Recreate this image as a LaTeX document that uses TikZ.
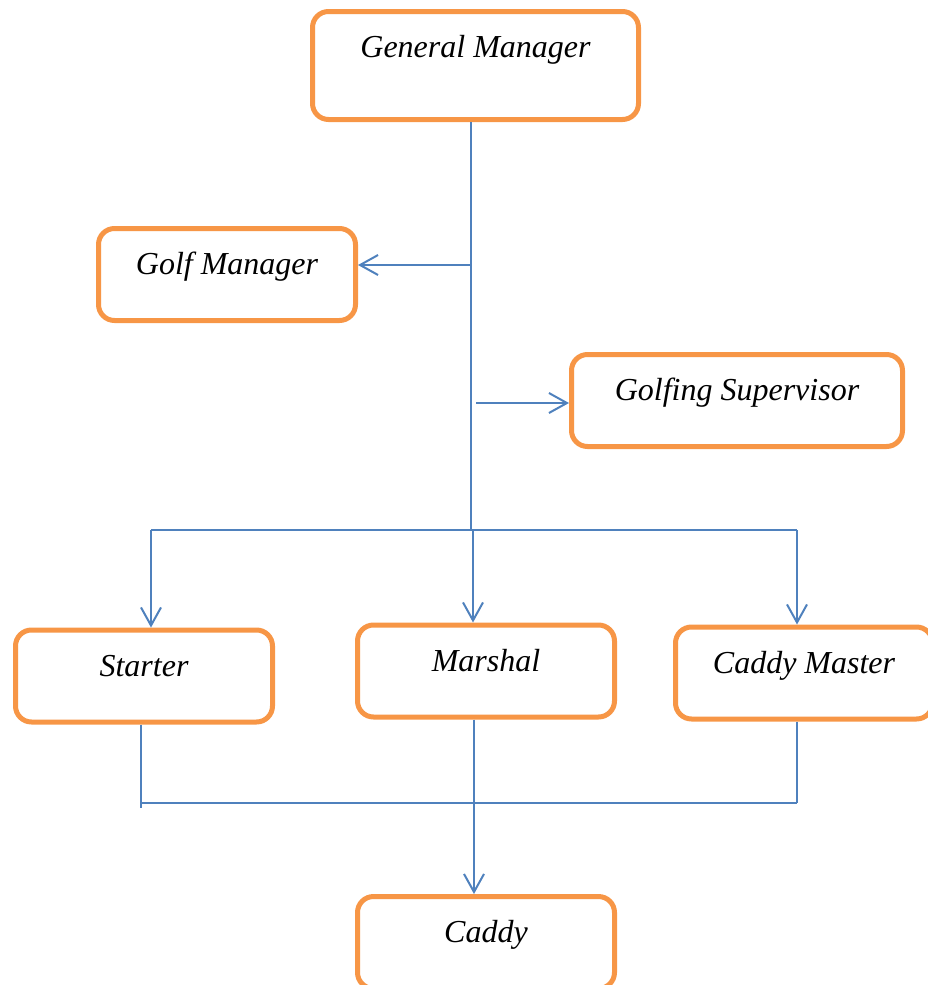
\documentclass[tikz,border=0pt]{standalone}
\usepackage{fontspec}
\setmainfont{Liberation Serif}
\usetikzlibrary{arrows.meta}
\definecolor{boxorange}{RGB}{247,150,70}
\definecolor{lineblue}{RGB}{79,129,189}

\begin{document}
\begin{tikzpicture}[
    x=0.5pt, y=-0.5pt,
    role/.style={rectangle, draw=boxorange, line width=2.5pt, fill=white, rounded corners=8pt, inner sep=0pt, minimum width=128.5pt, text height=23pt, text depth=23pt, align=center, font=\fontsize{16}{19}\selectfont\itshape},
    link/.style={draw=lineblue, line width=1pt},
    arrow/.style={link, -{Straight Barb[length=9pt, width=10pt, line width=1pt]}}
  ]
    \useasboundingbox (0,0) rectangle (927,985);

    % boxes
    \node[role, minimum width=163pt, text depth=31pt] (gm) at (475.5,65.5) {General Manager};
    \node[role] (golfmgr) at (227,274.5) {Golf Manager};
    \node[role, minimum width=165.5pt] (golfsup) at (737,400.5) {Golfing Supervisor};
    \node[role] (starter) at (144,676) {Starter};
    \node[role] (marshal) at (486,671) {Marshal};
    \node[role] (cmaster) at (804,673) {Caddy Master};
    \node[role] (caddy) at (486,942.5) {Caddy};

    % junction points
    \coordinate (hub) at (471,530);
    \coordinate (supstart) at (476,403);
    \coordinate (dropA) at (151,530);
    \coordinate (dropB) at (473,530);
    \coordinate (dropC) at (797,530);
    \coordinate (joinA) at (141,803);
    \coordinate (joinB) at (474,803);
    \coordinate (joinC) at (797,803);

    % top part
    \draw[link] (hub |- gm.south) -- (hub);
    \draw[arrow] (hub |- golfmgr.east) ++(0,-9.5) -- ([yshift=4.75pt]golfmgr.east);
    \draw[arrow] (supstart) -- (supstart -| golfsup.west);

    % split to the three posts
    \draw[link] (dropA) -- (dropC);
    \draw[arrow] (dropA) -- (dropA |- starter.north);
    \draw[arrow] (dropB) -- (dropB |- marshal.north);
    \draw[arrow] (dropC) -- (dropC |- cmaster.north);

    % join down to the caddy
    \draw[link] (joinA |- starter.south) -- ([yshift=-2.5pt]joinA);
    \draw[link] (joinC |- cmaster.south) -- (joinC);
    \draw[link] (joinA) -- (joinC);
    \draw[arrow] (joinB |- marshal.south) -- (joinB |- caddy.north);
\end{tikzpicture}
\end{document}
